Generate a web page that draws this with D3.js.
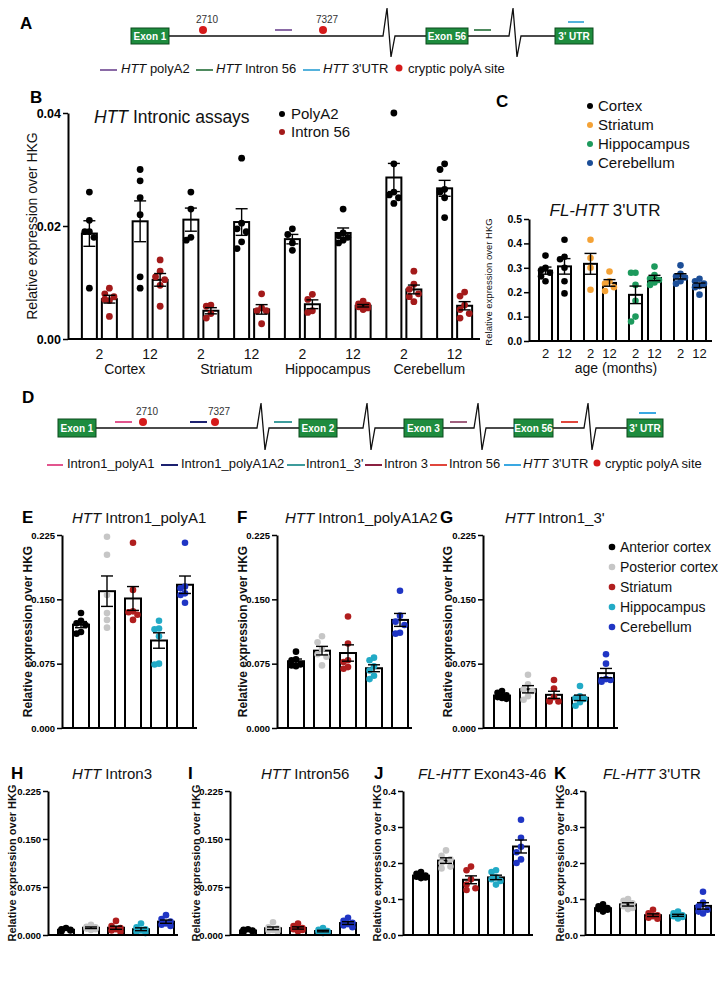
<!DOCTYPE html>
<html><head><meta charset="utf-8">
<script src="https://cdn.jsdelivr.net/npm/d3@7"></script>
<style>body{margin:0;background:#fff}</style>
</head><body><svg id="fig" width="725" height="996"></svg>
<script>
// ---------------- DATA ----------------
const bRegions = ["Cortex","Striatum","Hippocampus","Cerebellum"];
const bAges = ["2","12"];
const bSeries = ["PolyA2","Intron 56"];
const bSeriesColors = ["#000000","#a31a1a"];
// order: Cortex 2, Cortex 12, Striatum 2, Striatum 12, Hippocampus 2, Hippocampus 12, Cerebellum 2, Cerebellum 12
const bPolyA2 = [
  [0.026,0.021,0.019,0.019,0.018,0.009],
  [0.030,0.028,0.025,0.022,0.011,0.009],
  [0.026,0.023,0.018,0.0175],
  [0.032,0.0205,0.0195,0.019,0.0172,0.016],
  [0.0195,0.0185,0.017,0.0157],
  [0.023,0.0188,0.0183,0.018,0.0175,0.017],
  [0.040,0.031,0.026,0.0255,0.025,0.024],
  [0.031,0.030,0.0265,0.026,0.025,0.0215]
];
const bIntron56 = [
  [0.009,0.008,0.0075,0.007,0.0068,0.004],
  [0.014,0.012,0.011,0.0105,0.0095,0.0058],
  [0.006,0.0058,0.0045,0.0037],
  [0.008,0.0055,0.005,0.005,0.0027],
  [0.0079,0.007,0.005,0.0047],
  [0.0067,0.0062,0.006,0.0057,0.0055,0.0052],
  [0.012,0.0097,0.0088,0.008,0.0075,0.0066],
  [0.0083,0.0076,0.006,0.0052,0.0045,0.0037]
];
const bTicks = [0,0.02,0.04];

const cRegions = ["Cortex","Striatum","Hippocampus","Cerebellum"];
const cAges = ["2","12"];
const cColors = ["#000000","#f4a236","#1d9a5d","#1c4e97"];
const cValues = [
  [0.35,0.30,0.29,0.28,0.265,0.245],
  [0.415,0.345,0.335,0.30,0.245,0.195],
  [0.415,0.34,0.30,0.21],
  [0.285,0.245,0.235,0.22,0.205],
  [0.28,0.28,0.23,0.165,0.10,0.08],
  [0.305,0.27,0.255,0.25,0.24,0.23],
  [0.31,0.275,0.265,0.26,0.245,0.235],
  [0.255,0.245,0.235,0.225,0.22,0.19]
];
const cTicks = [0,0.1,0.2,0.3,0.4,0.5];

const tissues = ["Anterior cortex","Posterior cortex","Striatum","Hippocampus","Cerebellum"];
const tissueColors = ["#000000","#c6c6c6","#b01e1e","#22aac6","#1f35c4"];
const eValues = [[0.134,0.125,0.122,0.12,0.112,0.11],[0.223,0.202,0.155,0.134,0.126,0.117],[0.216,0.161,0.136,0.135,0.132,0.126],[0.125,0.116,0.115,0.107,0.075,0.074],[0.216,0.165,0.163,0.157,0.155,0.146]];
const fValues = [[0.089,0.08,0.079,0.074,0.073,0.072],[0.107,0.1,0.092,0.086,0.083,0.073],[0.13,0.0985,0.079,0.077,0.071,0.069],[0.082,0.079,0.072,0.067,0.061,0.057],[0.16,0.131,0.124,0.12,0.111,0.11]];
const gValues = [[0.043,0.041,0.038,0.036,0.035,0.034],[0.062,0.051,0.045,0.043,0.037,0.033],[0.056,0.046,0.036,0.032,0.031,0.031],[0.049,0.037,0.035,0.034,0.03,0.026],[0.086,0.075,0.057,0.056,0.056,0.054]];
const hValues = [[0.011,0.009,0.008,0.008,0.007,0.006],[0.016,0.013,0.012,0.01,0.009,0.008],[0.022,0.014,0.011,0.009,0.007,0.005],[0.018,0.012,0.009,0.007,0.005,0.003],[0.031,0.025,0.021,0.018,0.016,0.014]];
const iValues = [[0.009,0.008,0.007,0.007,0.006,0.005],[0.02,0.012,0.01,0.008,0.007,0.006],[0.018,0.014,0.011,0.009,0.008,0.006],[0.011,0.008,0.006,0.005,0.004,0.003],[0.027,0.022,0.019,0.017,0.015,0.012]];
const jValues = [[0.175,0.17,0.165,0.162,0.16,0.158],[0.235,0.22,0.21,0.2,0.19,0.185],[0.19,0.18,0.155,0.14,0.13,0.125],[0.18,0.175,0.16,0.155,0.15,0.14],[0.32,0.27,0.245,0.23,0.21,0.2]];
const kValues = [[0.085,0.08,0.075,0.072,0.07,0.065],[0.1,0.095,0.088,0.08,0.075,0.072],[0.07,0.06,0.055,0.052,0.048,0.045],[0.065,0.06,0.055,0.052,0.05,0.046],[0.12,0.09,0.08,0.07,0.065,0.06]];
const ticks225 = [0,0.075,0.15,0.225];
const ticks04 = [0,0.1,0.2,0.3,0.4];

// ---------------- DRAWING ----------------
const FONT = "'Liberation Sans', Arial, Helvetica, sans-serif";
const svg = d3.select("#fig");
svg.append("rect").attr("width",725).attr("height",996).attr("fill","#fff");

function letter(t,x,y){ svg.append("text").attr("x",x).attr("y",y).attr("font-size",17).attr("font-weight","bold").attr("font-family",FONT).text(t); }
function rich(g,x,y,parts,size,anchor){
  const t=g.append("text").attr("x",x).attr("y",y).attr("font-size",size).attr("font-family",FONT).attr("text-anchor",anchor||"start").attr("fill","#111");
  parts.forEach(p=>t.append("tspan").attr("font-style",p.i?"italic":"normal").text(p.t));
  return t;
}
function swarm(vals,y,cx,r,maxOff){
  const placed=[], out=new Array(vals.length);
  const order=vals.map((v,i)=>i).sort((a,b)=>vals[b]-vals[a]);
  const cands=[0,-1,1,-2,2,-3,3].map(k=>k*r*1.35).filter(o=>Math.abs(o)<=maxOff);
  order.forEach(i=>{
    const py=y(vals[i]); let best=0, bs=Infinity;
    for(const o of cands){ let ov=0; for(const p of placed){ const d=Math.hypot(p.x-(cx+o),p.y-py); if(d<2*r) ov+=2*r-d; } if(ov===0){best=o;bs=0;break;} if(ov<bs){bs=ov;best=o;} }
    placed.push({x:cx+best,y:py}); out[i]={x:cx+best,y:py};
  });
  return out;
}
function drawBar(g,cx,bw,vals,y,color,r){
  const m=d3.mean(vals), s=d3.deviation(vals)/Math.sqrt(vals.length);
  g.append("rect").attr("x",cx-bw/2).attr("y",y(m)).attr("width",bw).attr("height",y(0)-y(m)).attr("fill","#fff").attr("stroke","#000").attr("stroke-width",2);
  const pts=swarm(vals,y,cx,r,bw/2-1);
  g.selectAll(null).data(pts).join("circle").attr("cx",d=>d.x).attr("cy",d=>d.y).attr("r",r).attr("fill",color);
  const e=g.append("g").attr("stroke","#000").attr("stroke-width",1.4), cap=6;
  e.append("line").attr("x1",cx).attr("x2",cx).attr("y1",y(m-s)).attr("y2",y(m+s));
  [m+s,m-s].forEach(v=>e.append("line").attr("x1",cx-cap).attr("x2",cx+cap).attr("y1",y(v)).attr("y2",y(v)));
}
function yAxis(g,x,y,ticks,fmt,size){
  const a=g.append("g").attr("transform",`translate(${x},0)`)
    .call(d3.axisLeft(y).tickValues(ticks).tickFormat(d3.format(fmt)).tickSize(5).tickSizeOuter(0).tickPadding(2));
  a.select(".domain").attr("stroke-width",2).attr("stroke","#000");
  a.selectAll(".tick line").attr("stroke-width",1.5).attr("stroke","#000");
  a.selectAll(".tick text").attr("font-size",size).attr("font-weight","bold").attr("font-family",FONT).attr("fill","#000");
}
function yTitle(g,x,yc,size,bold,txt){
  g.append("text").attr("transform",`translate(${x},${yc}) rotate(-90)`).attr("text-anchor","middle").attr("dy","0.35em")
   .attr("font-size",size).attr("font-weight",bold?"bold":"normal").attr("font-family",FONT).attr("fill","#111").text(txt);
}

// ---- gene schematics ----
function gene(g,o){
  const pts=[[o.start,o.y]];
  o.breaks.forEach(b=>{ pts.push([b,o.y],[b+4,o.y-o.up],[b+8,o.y+o.down],[b+12,o.y]); });
  pts.push([o.end,o.y]);
  g.append("path").attr("d",d3.line()(pts)).attr("fill","none").attr("stroke","#111").attr("stroke-width",1.3);
  o.exons.forEach(([n,x0,x1])=>{
    g.append("rect").attr("x",x0).attr("y",o.y-o.h/2).attr("width",x1-x0).attr("height",o.h).attr("fill","#1e8c3e").attr("stroke","#0b4a1c").attr("stroke-width",1);
    g.append("text").attr("x",(x0+x1)/2).attr("y",o.y+3.5).attr("text-anchor","middle").attr("font-size",10).attr("font-weight","bold").attr("font-family",FONT).attr("fill","#fff").text(n);
  });
  o.dashes.forEach(([c,x0,x1,yy])=>g.append("line").attr("x1",x0).attr("x2",x1).attr("y1",yy).attr("y2",yy).attr("stroke",c).attr("stroke-width",2));
  o.sites.forEach(([lab,x,yy])=>{
    g.append("circle").attr("cx",x).attr("cy",yy).attr("r",4).attr("fill","#d51a1a");
    g.append("text").attr("x",x+4).attr("y",yy-7).attr("text-anchor","middle").attr("font-size",10).attr("font-family",FONT).attr("fill","#333").text(lab);
  });
  o.legend.forEach(it=>{
    if(it.dot){ g.append("circle").attr("cx",it.x0).attr("cy",o.ly).attr("r",3.5).attr("fill","#d51a1a"); }
    else g.append("line").attr("x1",it.x0).attr("x2",it.x1).attr("y1",o.ly+2).attr("y2",o.ly+2).attr("stroke",it.c).attr("stroke-width",2);
    rich(g,it.tx,o.ly+5,it.parts,13);
  });
}
letter("A",20,29);
gene(svg.append("g"),{y:36,h:16,start:169,end:555,up:28,down:21,breaks:[383,509],
  exons:[["Exon 1",131,169],["Exon 56",426,468],["3' UTR",555,593]],
  dashes:[["#8a6aa6",275,292,30],["#4e8a5e",474,491,30],["#55b2dc",568,584,22]],
  sites:[["2710",203,30],["7327",323,30]],ly:68,
  legend:[{c:"#8a6aa6",x0:100,x1:117,tx:121,parts:[{t:"HTT",i:1},{t:" polyA2"}]},
          {c:"#4e8a5e",x0:196,x1:213,tx:216,parts:[{t:"HTT",i:1},{t:" Intron 56"}]},
          {c:"#55b2dc",x0:303,x1:320,tx:323,parts:[{t:"HTT",i:1},{t:" 3'UTR"}]},
          {dot:1,x0:399,tx:408,parts:[{t:"cryptic polyA site"}]}]});

letter("D",22,403);
gene(svg.append("g"),{y:428,h:18,start:96,end:627,up:25,down:22,breaks:[257,363,474,584],
  exons:[["Exon 1",58,96],["Exon 2",299,337],["Exon 3",404,443],["Exon 56",514,553],["3' UTR",627,663]],
  dashes:[["#e2558e",115,132,422],["#1c2170",190,207,422],["#3d9c9c",274,292,422],["#a0607e",450,467,422],["#e0463c",561,578,422],["#3aa8e2",639,656,413]],
  sites:[["2710",143,422],["7327",215,422]],ly:463,
  legend:[{c:"#e2558e",x0:47,x1:63,tx:67,parts:[{t:"Intron1_polyA1"}]},
          {c:"#1c2170",x0:161,x1:178,tx:181,parts:[{t:"Intron1_polyA1A2"}]},
          {c:"#3d9c9c",x0:287,x1:305,tx:306,parts:[{t:"Intron1_3'"}]},
          {c:"#8a2040",x0:365,x1:382,tx:384,parts:[{t:"Intron 3"}]},
          {c:"#e0463c",x0:430,x1:447,tx:449,parts:[{t:"Intron 56"}]},
          {c:"#3aa8e2",x0:504,x1:521,tx:523,parts:[{t:"HTT",i:1},{t:" 3'UTR"}]},
          {dot:1,x0:597,tx:605,parts:[{t:"cryptic polyA site"}]}]});

// ---- Panel B ----
(function(){
  const g=svg.append("g");
  letter("B",30,103);
  const y=d3.scaleLinear().domain([0,0.04]).range([339,113]);
  const keys=[]; bRegions.forEach(r=>bAges.forEach(a=>keys.push(r+"|"+a)));
  const xo=d3.scaleBand().domain(keys).range([74,480]).padding(0);
  const xi=d3.scaleBand().domain(bSeries).range([-17.5,17.5]).paddingInner(0.25);
  keys.forEach((k,i)=>{
    const c=xo(k)+xo.bandwidth()/2;
    [bPolyA2[i],bIntron56[i]].forEach((vals,s)=>drawBar(g,c+xi(bSeries[s])+xi.bandwidth()/2,xi.bandwidth(),vals,y,bSeriesColors[s],3.4));
    g.append("text").attr("x",c).attr("y",359).attr("text-anchor","middle").attr("font-size",14).attr("font-family",FONT).attr("fill","#111").text(k.split("|")[1]);
  });
  bRegions.forEach((r,i)=>{
    const c=(xo(r+"|2")+xo(r+"|12")+xo.bandwidth())/2;
    g.append("text").attr("x",c).attr("y",374).attr("text-anchor","middle").attr("font-size",14).attr("font-family",FONT).attr("fill","#111").text(r);
  });
  g.append("line").attr("x1",68).attr("x2",480).attr("y1",339).attr("y2",339).attr("stroke","#000").attr("stroke-width",2);
  yAxis(g,68,y,bTicks,".2f",12.5);
  yTitle(g,32,226,14,false,"Relative expression over HKG");
  rich(g,94,123,[{t:"HTT",i:1},{t:"  Intronic assays"}],17.5);
  bSeries.forEach((s,i)=>{
    g.append("circle").attr("cx",282).attr("cy",114+i*18).attr("r",3).attr("fill",bSeriesColors[i]);
    rich(g,291,119+i*18,[{t:s}],15);
  });
})();

// ---- Panel C ----
(function(){
  const g=svg.append("g");
  letter("C",496,107);
  cRegions.forEach((r,i)=>{
    g.append("circle").attr("cx",590).attr("cy",106+i*19).attr("r",3).attr("fill",cColors[i]);
    rich(g,598,111+i*19,[{t:r}],15);
  });
  const y=d3.scaleLinear().domain([0,0.5]).range([341,219]);
  const xo=d3.scaleBand().domain(cRegions).range([532.5,712.5]).padding(0);
  const xi=d3.scaleBand().domain(cAges).range([-16,16]).paddingInner(6/19);
  cRegions.forEach((r,ri)=>cAges.forEach((a,ai)=>{
    const cx=xo(r)+xo.bandwidth()/2+xi(a)+xi.bandwidth()/2;
    drawBar(g,cx,xi.bandwidth(),cValues[ri*2+ai],y,cColors[ri],3.3);
    g.append("text").attr("x",cx).attr("y",358).attr("text-anchor","middle").attr("font-size",13).attr("font-family",FONT).attr("fill","#111").text(a);
  }));
  g.append("line").attr("x1",529).attr("x2",712).attr("y1",341).attr("y2",341).attr("stroke","#000").attr("stroke-width",2);
  yAxis(g,529,y,cTicks,".1f",10.5);
  yTitle(g,489,282,9.5,false,"Relative expression over HKG");
  g.append("text").attr("x",616).attr("y",373).attr("text-anchor","middle").attr("font-size",14).attr("font-family",FONT).attr("fill","#111").text("age (months)");
  rich(g,605,216,[{t:"FL-HTT",i:1},{t:" 3'UTR"}],17,"middle");
})();

// ---- Panels E-K ----
function tissuePanel(p){
  const g=svg.append("g");
  const y=d3.scaleLinear().domain([0,p.max]).range([p.yBot,p.yTop]);
  const x=d3.scaleBand().domain(tissues).range([p.ax+p.off,p.ax+p.off+5*p.step-(p.step-p.bw)]).paddingInner((p.step-p.bw)/p.step).paddingOuter(0);
  tissues.forEach((t,i)=>drawBar(g,x(t)+x.bandwidth()/2,x.bandwidth(),p.data[i],y,tissueColors[i],3.3));
  g.append("line").attr("x1",p.ax).attr("x2",x.range()[1]+4).attr("y1",p.yBot).attr("y2",p.yBot).attr("stroke","#000").attr("stroke-width",2);
  yAxis(g,p.ax,y,p.ticks,p.fmt,9.5);
  yTitle(g,p.lx,(p.yTop+p.yBot)/2,p.lsize,true,"Relative expression over HKG");
  rich(g,p.tx,p.ty,p.title,15);
  letter(p.letter,p.Lx,p.ty);
}
const rowEG={yTop:535,yBot:728,max:0.225,ticks:ticks225,fmt:".3f",off:11,step:26,bw:16,lsize:12,ty:523};
tissuePanel({...rowEG,ax:62,data:eValues,lx:28,tx:72,title:[{t:"HTT",i:1},{t:" Intron1_polyA1"}],letter:"E",Lx:22});
tissuePanel({...rowEG,ax:277,data:fValues,lx:243,tx:285,title:[{t:"HTT",i:1},{t:" Intron1_polyA1A2"}],letter:"F",Lx:237});
tissuePanel({...rowEG,ax:483,data:gValues,lx:448,tx:505,title:[{t:"HTT",i:1},{t:" Intron1_3'"}],letter:"G",Lx:440});
tissues.forEach((t,i)=>{
  svg.append("circle").attr("cx",612).attr("cy",547+i*20).attr("r",3.3).attr("fill",tissueColors[i]);
  rich(svg,620,552+i*20,[{t:t}],14);
});
const rowHK={yTop:791,yBot:935,off:10,step:25,bw:16,lsize:11,ty:779};
tissuePanel({...rowHK,ax:48,max:0.225,ticks:ticks225,fmt:".3f",data:hValues,lx:12,tx:72,title:[{t:"HTT",i:1},{t:" Intron3"}],letter:"H",Lx:11});
tissuePanel({...rowHK,ax:230,max:0.225,ticks:ticks225,fmt:".3f",data:iValues,lx:196,tx:261,title:[{t:"HTT",i:1},{t:" Intron56"}],letter:"I",Lx:188});
tissuePanel({...rowHK,ax:403,max:0.4,ticks:ticks04,fmt:".1f",data:jValues,lx:377,tx:418,title:[{t:"FL-HTT",i:1},{t:" Exon43-46"}],letter:"J",Lx:374});
tissuePanel({...rowHK,ax:585,max:0.4,ticks:ticks04,fmt:".1f",data:kValues,lx:560,tx:603,title:[{t:"FL-HTT",i:1},{t:" 3'UTR"}],letter:"K",Lx:554});
</script></body></html>
